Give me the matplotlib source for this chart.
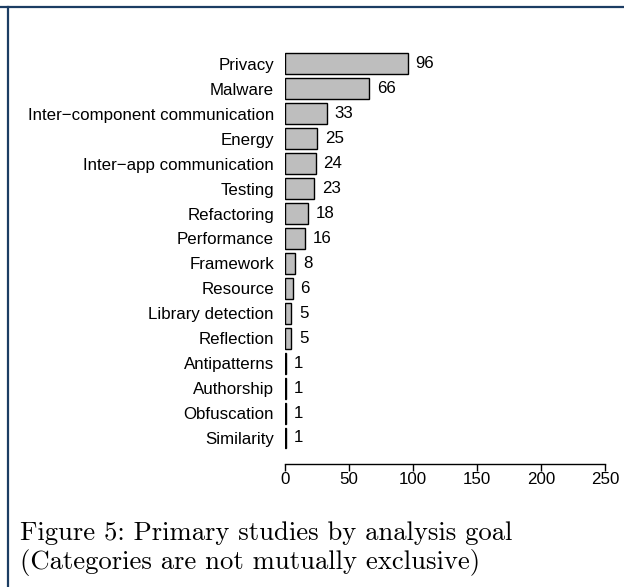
import matplotlib
matplotlib.use("Agg")
import matplotlib.pyplot as plt
from matplotlib.lines import Line2D

# data
goals = ['Privacy', 'Malware', 'Inter\u2212component communication', 'Energy',
         'Inter\u2212app communication', 'Testing', 'Refactoring', 'Performance',
         'Framework', 'Resource', 'Library detection', 'Reflection',
         'Antipatterns', 'Authorship', 'Obfuscation', 'Similarity']
counts = [96, 66, 33, 25, 24, 23, 18, 16, 8, 6, 5, 5, 1, 1, 1, 1]
xticks = [0, 50, 100, 150, 200, 250]

plt.rcParams['font.family'] = ['Liberation Sans', 'DejaVu Sans']
fs = 12.2

fig = plt.figure(figsize=(6.24, 5.87), dpi=100)

# frame lines top and left
fig.add_artist(Line2D([0, 1], [1 - 7/587, 1 - 7/587], transform=fig.transFigure,
                      color='#1c3d63', lw=1.6))
fig.add_artist(Line2D([7.5/624, 7.5/624], [0, 1 - 7/587], transform=fig.transFigure,
                      color='#1c3d63', lw=1.6))

ax = fig.add_axes([285/624, 123/587, 320/624, 434/587])
ypos = list(range(len(goals) - 1, -1, -1))
ax.barh(ypos, counts, height=0.84, color='#bebebe', edgecolor='black', linewidth=1.0)
for y, c in zip(ypos, counts):
    ax.annotate(str(c), (c, y), xytext=(5.5, 0), textcoords='offset points',
                va='center', ha='left', fontsize=fs)

ax.set_xlim(0, 250)
ax.set_ylim(-1.043, 16.36)
ax.set_yticks(ypos)
ax.set_yticklabels(goals, fontsize=fs)
ax.tick_params(axis='y', length=0, pad=8)
ax.set_xticks(xticks)
ax.set_xticklabels([str(t) for t in xticks], fontsize=fs)
ax.tick_params(axis='x', length=5, width=1, pad=0.5)
for s in ['top', 'right', 'left']:
    ax.spines[s].set_visible(False)
ax.spines['bottom'].set_bounds(0, 250)
ax.spines['bottom'].set_linewidth(1)
ax.patch.set_alpha(0)

fig.text(20/624, 1 - 533/587, 'Figure 5: Primary studies by analysis goal',
         family='cmr10', fontsize=19.2, va='center', ha='left')
fig.text(20/624, 1 - 563/587, '(Categories are not mutually exclusive)',
         family='cmr10', fontsize=19.2, va='center', ha='left')

fig.savefig('out.png', dpi=100)
